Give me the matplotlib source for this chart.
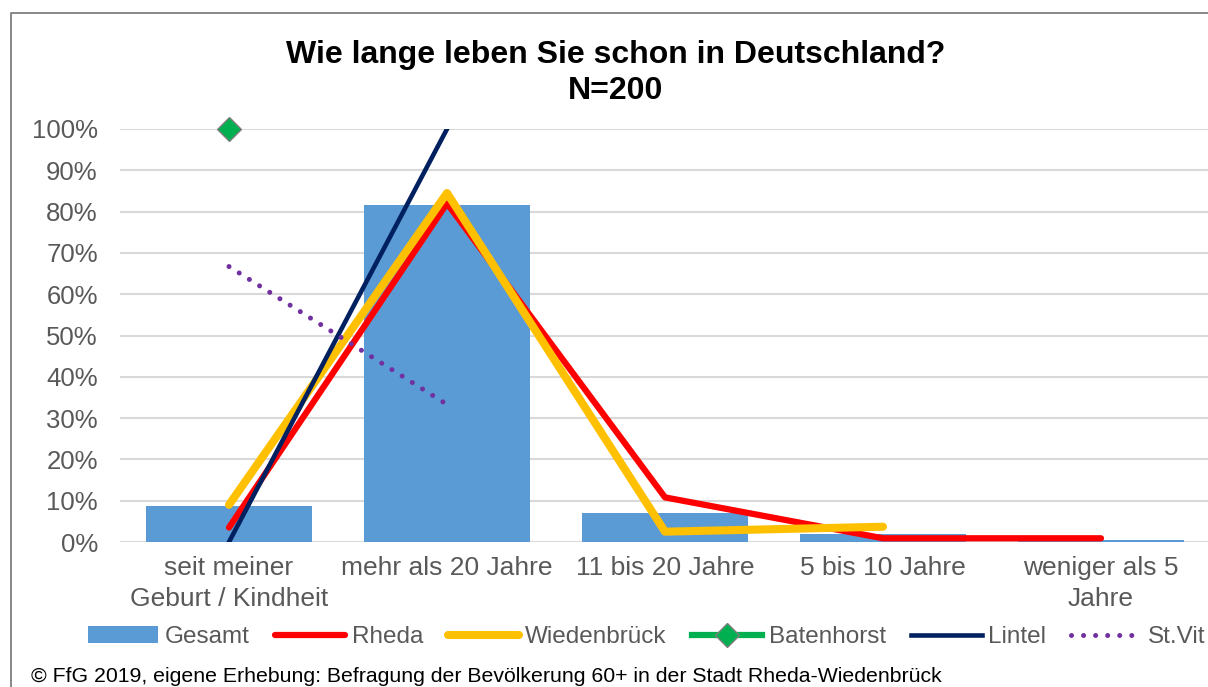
import numpy as np
import matplotlib
matplotlib.use("Agg")
import matplotlib.pyplot as plt
from matplotlib.lines import Line2D

plt.rcParams['font.family'] = ['Liberation Sans', 'DejaVu Sans']

categories = ["seit meiner\nGeburt / Kindheit", "mehr als 20 Jahre", "11 bis 20 Jahre",
              "5 bis 10 Jahre", "weniger als 5\nJahre"]
gesamt = [8.7, 81.5, 7.0, 2.0, 0.5]
rheda = [3.5, 82.0, 10.8, 0.9, 0.9]
wiedenbrueck = [9.0, 84.5, 2.5, 3.7, np.nan]
batenhorst = [100.0, np.nan, np.nan, np.nan, np.nan]
lintel = [0.0, 100.0, np.nan, np.nan, np.nan]
stvit = [66.7, 33.3, np.nan, np.nan, np.nan]

W, H = 1208, 687
fig = plt.figure(figsize=(W / 100, H / 100), dpi=100)
ax = fig.add_axes([120 / W, 1 - 542 / H, 1090 / W, 413 / H])

x = np.arange(len(categories))
ax.bar(x, gesamt, width=0.76, color='#5b9bd5', label='Gesamt', zorder=2)
ax.plot(x, rheda, color='#ff0000', lw=4.5, solid_capstyle='round', solid_joinstyle='round',
        label='Rheda', zorder=3)
ax.plot(x, wiedenbrueck, color='#ffc000', lw=5.8, solid_capstyle='round', solid_joinstyle='round',
        label='Wiedenbrück', zorder=4)
ax.plot(x, batenhorst, color='#00b050', lw=4.5, marker='D', markersize=12,
        markeredgecolor='#7f7f7f', markeredgewidth=1, label='Batenhorst', zorder=5, clip_on=False)
ax.plot(x, lintel, color='#002060', lw=3.3, label='Lintel', zorder=5)
ax.plot(x, stvit, color='#7030a0', lw=3.6, linestyle=(0, (0.01, 2.4)), dash_capstyle='round',
        label='St.Vit', zorder=6)

ax.set_xlim(-0.5, 4.5)
ax.set_ylim(0, 100)
ax.set_yticks(np.arange(0, 101, 10))
ax.set_yticklabels([f"{v}%" for v in range(0, 101, 10)])
ax.set_xticks(x)
ax.set_xticklabels(categories, linespacing=1.4)
ax.tick_params(axis='y', length=0, pad=16, labelsize=18.5, labelcolor='#595959')
ax.tick_params(axis='x', length=0, pad=10, labelsize=19, labelcolor='#595959')
for s in ax.spines.values():
    s.set_visible(False)
ax.grid(axis='y', color='#d9d9d9', lw=1.5, zorder=0)
ax.set_axisbelow(True)

fig.text(616 / W, 1 - 73 / H, "Wie lange leben Sie schon in Deutschland?\nN=200",
         ha='center', va='center', fontsize=23, fontweight='bold', linespacing=1.3)

handles, labels = ax.get_legend_handles_labels()
order = ['Gesamt', 'Rheda', 'Wiedenbrück', 'Batenhorst', 'Lintel', 'St.Vit']
hmap = dict(zip(labels, handles))
leg = fig.legend([hmap[k] for k in order], order, loc='center left',
                 bbox_to_anchor=(88 / W, 1 - 637 / H), ncol=6,
                 frameon=False, fontsize=17.5, handlelength=2.9, handletextpad=0.25,
                 columnspacing=1.05, borderpad=0, borderaxespad=0)
for t in leg.get_texts():
    t.set_color('#595959')

fig.text(31 / W, 1 - 677 / H,
         "© FfG 2019, eigene Erhebung: Befragung der Bevölkerung 60+ in der Stadt Rheda-Wiedenbrück",
         ha='left', va='center', fontsize=15.3, color='black')

fx = 11 / W
fy = 1 - 13 / H
fig.add_artist(Line2D([fx, fx, 1.0], [0, fy, fy], color='#7f7f7f', lw=1.3))

fig.savefig("out.png", dpi=100)
